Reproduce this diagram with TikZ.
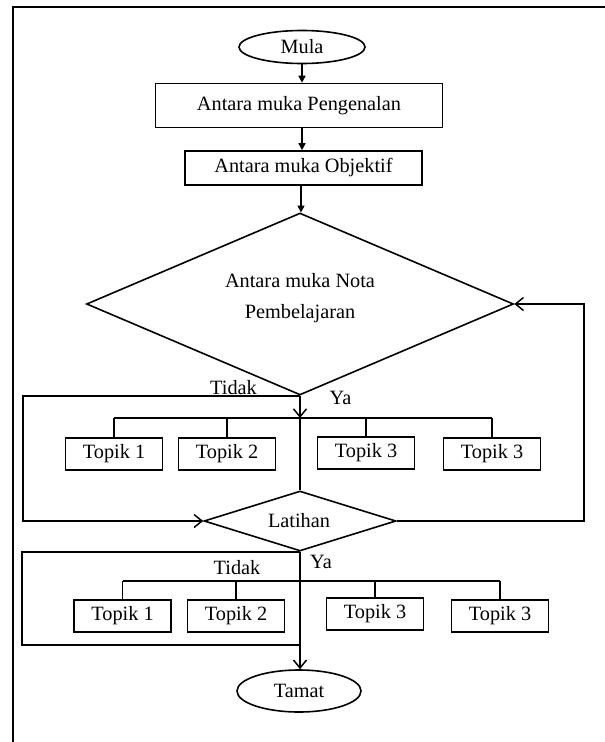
\documentclass[tikz,border=0pt]{standalone}
\usepackage{fontspec}
\setmainfont{Liberation Serif}
\usetikzlibrary{shapes.geometric,arrows.meta}
\begin{document}
\begin{tikzpicture}[x=1pt,y=-1pt,
  every node/.style={font=\fontsize{20.3}{24}\selectfont},
  ln/.style={line width=1.6pt, draw=black},
  box/.style={ln, rectangle, inner sep=0pt},
  topik/.style={box, minimum width=97pt, minimum height=32pt},
  oval/.style={ln, ellipse, inner sep=0pt},
  dia/.style={ln, diamond, inner sep=0pt},
  fa/.style={ln, -{Triangle[length=7pt,width=7pt]}},
  oa/.style={ln, -{Straight Barb[length=8pt,width=13pt,line width=1.5pt]}},
  lbl/.style={inner sep=0pt}
]
\useasboundingbox (0,0) rectangle (605,742);
% frame
\draw[line width=2.6pt] (13,742) -- (13,7) -- (605,7);

% main nodes
\node[oval, minimum width=126pt, minimum height=33pt] (mula) at (302,47) {Mula};
\node[box, minimum width=287pt, minimum height=44pt] (peng) at (299,105.5) {Antara muka Pengenalan};
\node[box, minimum width=237pt, minimum height=34pt] (obj) at (303.5,168) {Antara muka Objektif};
\node[dia, minimum width=427pt, minimum height=182pt] (nota) at (300,304) {};
\node[lbl, align=center, font=\fontsize{20.3}{31}\selectfont] (notatxt) at (300,298.5) {Antara muka Nota\\Pembelajaran};

\node[topik] (a1) at (114,454) {Topik 1};
\node[topik] (a2) at (227,454) {Topik 2};
\node[topik] (a3) at (366,453) {Topik 3};
\node[topik] (a4) at (492,454) {Topik 3};

\node[dia, minimum width=192pt, minimum height=60pt] (lat) at (300,521) {};
\node[lbl] (lattxt) at (299,521) {Latihan};

\node[topik] (b1) at (122.5,616) {Topik 1};
\node[topik] (b2) at (236,616) {Topik 2};
\node[topik] (b3) at (375,614) {Topik 3};
\node[topik] (b4) at (500,616) {Topik 3};

\node[oval, minimum width=124pt, minimum height=42pt] (tamat) at (299,691) {Tamat};

% labels
\node[lbl] (tidak1) at (233.5,388) {Tidak};
\node[lbl] (ya1) at (340.5,398) {Ya};
\node[lbl] (ya2) at (321,562) {Ya};
\node[lbl] (tidak2) at (237,568) {Tidak};

% coordinates
\coordinate (br1) at (300,418);
\coordinate (br1L) at (114,418);
\coordinate (br1R) at (492,418);
\coordinate (br2L) at (122.5,581);
\coordinate (br2R) at (500,581);
\coordinate (l1) at (23,396);
\coordinate (r1) at (584,400);
\coordinate (l2) at (22,551);
\coordinate (l2b) at (22,645);

% top arrows
\draw[fa] (mula.south) -- (mula.south |- peng.north);
\draw[fa] (mula.south |- peng.south) -- (mula.south |- obj.north);
\draw[fa] (301,185) -- (301,212.5);

% upper section
\draw[oa] (nota.south) -- (br1);
\draw[ln] (br1L) -- (br1R);
\foreach \n in {a1,a2,a3,a4} \draw[ln] (\n.north) -- (\n.north |- br1);
\draw[ln] (br1) -- (br1 |- lat.north);
\draw[oa] (nota.south) -- (nota.south -| l1) -- (l1) |- (lat.west);
\draw[oa] (lat.east) -| (r1) |- (nota.east);

% lower section
\draw[ln] (br2L) -- (br2R);
\foreach \n in {b1,b2,b3,b4} \draw[ln] (\n.north) -- (\n.north |- br2L);
\draw[oa] (lat.south) -- (lat.south |- tamat.north);
\draw[ln] (lat.south) -- (lat.south -| l2) -- (l2b) -- (lat.south |- l2b);
\end{tikzpicture}
\end{document}
